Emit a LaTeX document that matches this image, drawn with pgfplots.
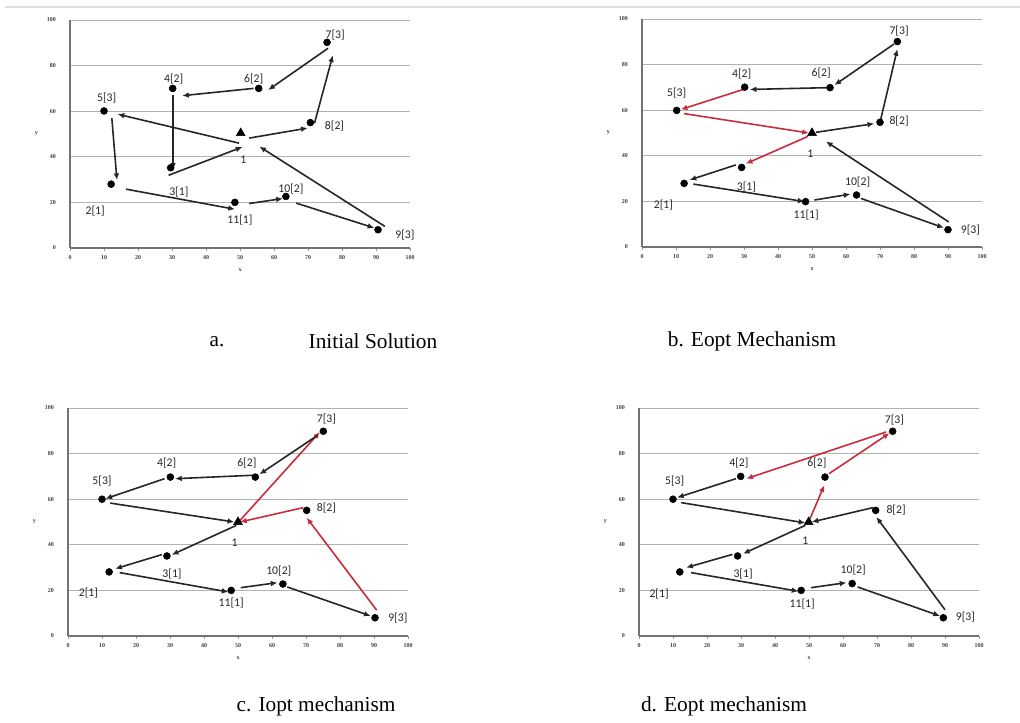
\documentclass[border=0pt]{standalone}
\usepackage{pgfplots}
\pgfplotsset{compat=1.18}
\usepackage{fontspec}
\setmainfont{Liberation Serif}
\newfontfamily\lab{Carlito}
\usetikzlibrary{arrows.meta}
\definecolor{redarr}{RGB}{200,45,60}
\pgfplotsset{
 panel/.style={
  scale only axis, width=255pt, height=171pt,
  xmin=0,xmax=100,ymin=0,ymax=100,
  xtick={0,10,...,100}, ytick={0,20,...,100},
  axis lines=left, axis line style={-, draw=black!55, line width=0.9pt},
  ymajorgrids, grid style={draw=black!30, line width=0.6pt},
  /pgf/number format/assume math mode=true,
  tick label style={font=\fontsize{4.5}{4.5}\selectfont\bfseries, text=black!75},
  yticklabel style={xshift=-5pt},
  tick align=outside, major tick length=2pt,
  xtick style={draw=black!40}, ytick style={draw=none},
  xlabel={x}, ylabel={y},
  label style={font=\fontsize{4.5}{4.5}\selectfont\bfseries, text=black!75},
  ylabel style={rotate=-90},
  clip=false,
 },
 arr/.style={-{Latex[length=5pt,width=4.3pt]}, line width=1.2pt, black!85},
 rarr/.style={-{Latex[length=5pt,width=4.3pt]}, line width=1.2pt, redarr},
 pt/.style={only marks, mark=*, mark size=2.6pt, black},
 dep/.style={only marks, mark=triangle*, mark size=3.8pt, black},
}
\tikzset{lab/.style={font=\lab\fontsize{8.8}{10}\selectfont, text=black!85, inner sep=0pt}}
\begin{document}
\begin{tikzpicture}
\path[use as bounding box] (0,0) rectangle (765pt,-542.25pt);
\draw[black!12, line width=1.2pt] (4pt,-5.3pt) -- (765pt,-5.3pt);

% ---------- a ----------
\begin{axis}[panel, at={(52.5pt,-186pt)}, anchor=origin]
\addplot[arr] coordinates {(52.7,48.2) (69.9,52.6)};
\addplot[arr] coordinates {(71.9,54.7) (77.3,84.5)};
\addplot[arr] coordinates {(75.9,87.6) (58.3,69.3)};
\addplot[arr] coordinates {(54,70) (33,66.8)};
\addplot[arr] coordinates {(30.3,67) (30.3,34.3)};
\addplot[arr] coordinates {(29,31.9) (50.7,44.3)};
\addplot[arr] coordinates {(49.7,46) (14,58.7)};
\addplot[arr] coordinates {(12.3,57) (13.8,29.8)};
\addplot[arr] coordinates {(16.5,25.8) (48.5,17)};
\addplot[arr] coordinates {(52.7,19.5) (62.6,21.7)};
\addplot[arr] coordinates {(66.5,19.7) (89.5,8.8)};
\addplot[arr] coordinates {(92.6,9.5) (55.7,44.5)};
\addplot[pt] coordinates {(75.6,90.2) (55.5,70) (30.2,70) (10,60.1) (70.7,55) (29.6,35.2) (12.1,28) (48.5,20) (63.5,22.6) (90.6,8)};
\addplot[dep] coordinates {(50.2,50.4)};
\node[lab] at (axis cs:78,93.4) {7[3]};
\node[lab] at (axis cs:54,74) {6[2]};
\node[lab] at (axis cs:30.5,74) {4[2]};
\node[lab] at (axis cs:10.8,65.7) {5[3]};
\node[lab] at (axis cs:77.8,53.3) {8[2]};
\node[lab] at (axis cs:51,38.7) {1};
\node[lab] at (axis cs:32,24.5) {3[1]};
\node[lab] at (axis cs:7.4,16.4) {2[1]};
\node[lab] at (axis cs:50,12.4) {11[1]};
\node[lab] at (axis cs:65,26) {10[2]};
\node[lab] at (axis cs:98.5,5.8) {9[3]};
\end{axis}

% ---------- b ----------
\begin{axis}[panel, at={(481.5pt,-185.25pt)}, anchor=origin]
\addplot[arr] coordinates {(55.1,69.9) (31.7,69.1)};
\addplot[arr] coordinates {(74.1,89) (56.6,71)};
\addplot[arr] coordinates {(70.2,55.9) (75.1,86.8)};
\addplot[arr] coordinates {(51.2,50.3) (68.3,54.1)};
\addplot[rarr] coordinates {(29.8,69.1) (11.4,60.3)};
\addplot[rarr] coordinates {(12.4,58.5) (49.1,50)};
\addplot[rarr] coordinates {(48.8,48.5) (30.5,36.5)};
\addplot[arr] coordinates {(27.6,36) (14,29.4)};
\addplot[arr] coordinates {(15.1,27.6) (47.8,19.9)};
\addplot[arr] coordinates {(50.7,20.6) (61.3,23.2)};
\addplot[arr] coordinates {(64.4,21.3) (88.8,8.4)};
\addplot[arr] coordinates {(90.2,11) (54.1,46.3)};
\addplot[pt] coordinates {(75.1,90.1) (55.3,69.9) (30.2,70.1) (10.2,59.9) (70,54.7) (29.3,34.9) (12.4,27.9) (48.1,19.9) (63.1,22.8) (90,7.6)};
\addplot[dep] coordinates {(50,50)};
\node[lab] at (axis cs:75.6,94.9) {7[3]};
\node[lab] at (axis cs:52.7,76.2) {6[2]};
\node[lab] at (axis cs:29.3,75.7) {4[2]};
\node[lab] at (axis cs:10.2,67.6) {5[3]};
\node[lab] at (axis cs:75.6,55.4) {8[2]};
\node[lab] at (axis cs:49.5,40.9) {1};
\node[lab] at (axis cs:30.7,26.5) {3[1]};
\node[lab] at (axis cs:6.3,18.4) {2[1]};
\node[lab] at (axis cs:48.3,14) {11[1]};
\node[lab] at (axis cs:63.4,28.7) {10[2]};
\node[lab] at (axis cs:96.6,7.3) {9[3]};
\end{axis}

% ---------- c ----------
\begin{axis}[panel, at={(51pt,-477pt)}, anchor=origin]
\addplot[arr] coordinates {(49.5,48.5) (30.5,35.6)};
\addplot[arr] coordinates {(27.6,35.7) (13.9,29.5)};
\addplot[arr] coordinates {(15.2,27.8) (47.2,19.3)};
\addplot[arr] coordinates {(50.8,21.2) (61.6,23.4)};
\addplot[arr] coordinates {(64.5,21.5) (89,8.8)};
\addplot[rarr] coordinates {(90.8,11.3) (70.2,51.9)};
\addplot[rarr] coordinates {(69.2,56.3) (50.6,50)};
\addplot[rarr] coordinates {(50.6,50.7) (74.1,89.5)};
\addplot[arr] coordinates {(73.4,88) (56.3,70.9)};
\addplot[arr] coordinates {(54.3,70.5) (31.5,69)};
\addplot[arr] coordinates {(28.4,69) (11,60.2)};
\addplot[arr] coordinates {(12.4,58.3) (48.9,50)};
\addplot[pt] coordinates {(75.1,89.8) (55.1,69.7) (30.1,69.7) (10,60) (70.2,55.1) (29.1,35.1) (12.1,28.1) (48,20) (63.2,22.8) (90.3,8)};
\addplot[dep] coordinates {(50,50)};
\node[lab] at (axis cs:76,95) {7[3]};
\node[lab] at (axis cs:52.6,76) {6[2]};
\node[lab] at (axis cs:29,76) {4[2]};
\node[lab] at (axis cs:10,68) {5[3]};
\node[lab] at (axis cs:76,56) {8[2]};
\node[lab] at (axis cs:49,41) {1};
\node[lab] at (axis cs:30.6,27) {3[1]};
\node[lab] at (axis cs:6,19) {2[1]};
\node[lab] at (axis cs:48,14.5) {11[1]};
\node[lab] at (axis cs:62,28.5) {10[2]};
\node[lab] at (axis cs:97,8) {9[3]};
\end{axis}

% ---------- d ----------
\begin{axis}[panel, at={(479.25pt,-477pt)}, anchor=origin]
\addplot[rarr] coordinates {(50.3,51.5) (54.5,66.1)};
\addplot[rarr] coordinates {(55.9,71.2) (73.7,89)};
\addplot[rarr] coordinates {(72.7,89.5) (31.6,69)};
\addplot[arr] coordinates {(28.5,69) (11.2,60.7)};
\addplot[arr] coordinates {(12.4,58.5) (48.9,49.6)};
\addplot[arr] coordinates {(48.9,48.5) (30.6,36.1)};
\addplot[arr] coordinates {(27.5,35.8) (13.9,30)};
\addplot[arr] coordinates {(15.3,27.8) (46.9,19.6)};
\addplot[arr] coordinates {(50.6,21.2) (61,23.4)};
\addplot[arr] coordinates {(64.3,21.5) (88.5,8.8)};
\addplot[arr] coordinates {(90,11.5) (69.8,52.2)};
\addplot[arr] coordinates {(68.8,56.3) (50.8,50)};
\addplot[pt] coordinates {(74.6,89.8) (54.7,69.7) (29.9,70) (10,60) (69.6,55.1) (29,35.1) (12,28.1) (47.7,20) (62.7,23) (89.5,8)};
\addplot[dep] coordinates {(49.9,50)};
\node[lab] at (axis cs:75.1,94.7) {7[3]};
\node[lab] at (axis cs:52.3,75.9) {6[2]};
\node[lab] at (axis cs:29.4,75.9) {4[2]};
\node[lab] at (axis cs:10.5,68) {5[3]};
\node[lab] at (axis cs:75.6,55.4) {8[2]};
\node[lab] at (axis cs:48.9,41.7) {1};
\node[lab] at (axis cs:30.6,27) {3[1]};
\node[lab] at (axis cs:5.9,18.6) {2[1]};
\node[lab] at (axis cs:48,14.2) {11[1]};
\node[lab] at (axis cs:63,29.1) {10[2]};
\node[lab] at (axis cs:96,8.3) {9[3]};
\end{axis}

% captions
\node[font=\fontsize{16}{18}\selectfont] at (162.75pt,-256pt) {a.};
\node[font=\fontsize{16}{18}\selectfont] at (279.75pt,-256pt) {Initial Solution};
\node[font=\fontsize{16}{18}\selectfont] at (564pt,-256pt) {b. Eopt Mechanism};
\node[font=\fontsize{16}{18}\selectfont] at (237pt,-530pt) {c. Iopt mechanism};
\node[font=\fontsize{16}{18}\selectfont] at (543pt,-530pt) {d. Eopt mechanism};
\end{tikzpicture}
\end{document}
